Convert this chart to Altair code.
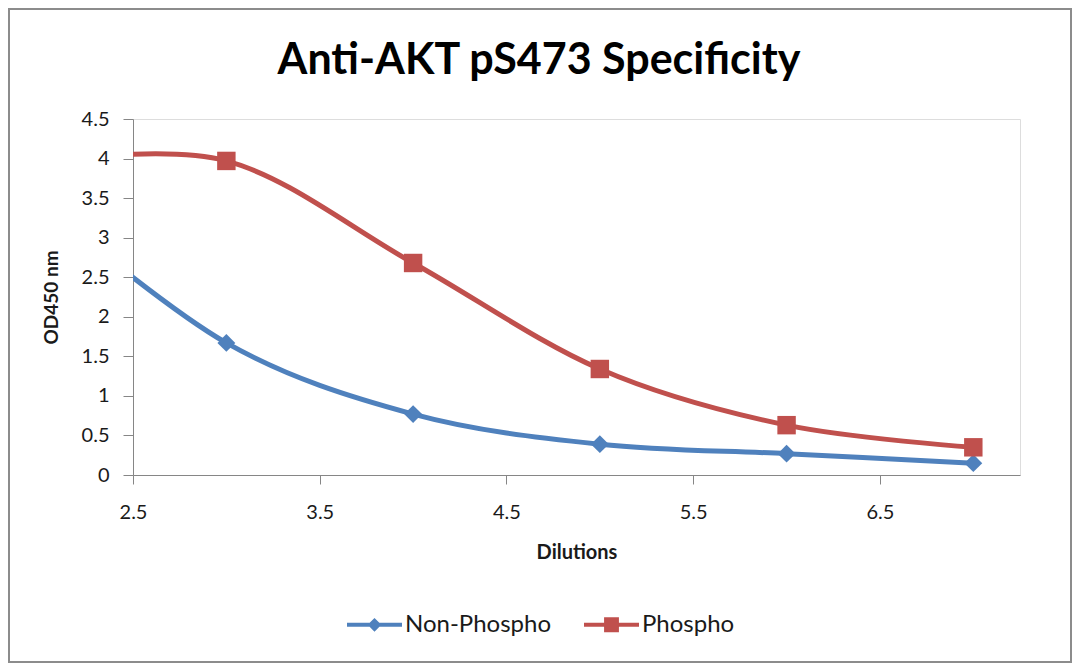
import altair as alt
import pandas as pd

# ---- data ----
dilutions = [2, 3, 4, 5, 6, 7]          # x = 2 lies left of the axis start (clipped, as in the original)
non_phospho = [3.45, 1.67, 0.77, 0.39, 0.27, 0.15]
phospho = [3.95, 3.97, 2.68, 1.34, 0.63, 0.35]
series_names = ["Non-Phospho", "Phospho"]
series_colors = ["#4F81BD", "#C0504D"]
x_ticks = [2.5, 3.5, 4.5, 5.5, 6.5]
y_ticks = [0, 0.5, 1, 1.5, 2, 2.5, 3, 3.5, 4, 4.5]
chart_title = "Anti-AKT pS473 Specificity"

rows = []
for d, a, b in zip(dilutions, non_phospho, phospho):
    rows.append({"Dilutions": d, "OD": a, "series": series_names[0]})
    rows.append({"Dilutions": d, "OD": b, "series": series_names[1]})
df = pd.DataFrame(rows)

FONT = "Lato"
TXT = "#1a1a1a"
AXC = "#868686"

x_enc = alt.X(
    "Dilutions:Q",
    scale=alt.Scale(domain=[2.5, 7.25], nice=False, zero=False),
    axis=alt.Axis(values=x_ticks, format=".1f", title="Dilutions", tickSize=9,
                  labelPadding=18, titlePadding=20, labelFontSize=20, titleFontSize=20,
                  labelFont=FONT, titleFont=FONT, titleFontWeight="bold",
                  labelColor=TXT, titleColor=TXT, domainColor=AXC, tickColor=AXC,
                  grid=False, labelFlush=False),
)
y_enc = alt.Y(
    "OD:Q",
    scale=alt.Scale(domain=[0, 4.5], nice=False),
    axis=alt.Axis(values=y_ticks, labelExpr="datum.value + ''", title="OD450 nm", tickSize=10,
                  labelPadding=14, titlePadding=20, labelFontSize=20, titleFontSize=19,
                  labelFont=FONT, titleFont=FONT, titleFontWeight="bold",
                  labelColor=TXT, titleColor=TXT, domainColor=AXC, tickColor=AXC,
                  grid=False, labelFlush=False),
)


def color_enc(legend=None):
    return alt.Color("series:N", scale=alt.Scale(domain=series_names, range=series_colors), legend=legend)


base = alt.Chart(df)

lines = base.mark_line(interpolate="cardinal", strokeWidth=5, clip=True).encode(
    x=x_enc, y=y_enc, color=color_enc()
)

points = base.mark_point(filled=True, opacity=1, clip=True).encode(
    x=x_enc, y=y_enc, color=color_enc(),
    shape=alt.Shape("series:N", scale=alt.Scale(domain=series_names, range=["diamond", "square"]), legend=None),
    size=alt.Size("series:N", scale=alt.Scale(domain=series_names, range=[320, 340]), legend=None),
)

# legend-only layer (its marks are placed outside the plot and clipped away);
# each symbol is a filled path: a short line with the series marker on it
leg = alt.Legend(orient="none", legendX=214, legendY=478, direction="horizontal", title=None,
                 symbolSize=3025, symbolStrokeWidth=0, symbolOpacity=1,
                 labelFont=FONT, labelFontSize=24, labelColor=TXT, labelOffset=3,
                 columnPadding=32)
diamond_path = ("M-1,-0.07L1,-0.07L1,0.07L-1,0.07Z"
                "M0,-0.25L0.25,0L0,0.25L-0.25,0Z")
square_path = ("M-1,-0.07L1,-0.07L1,0.07L-1,0.07Z"
               "M-0.27,-0.27L0.27,-0.27L0.27,0.27L-0.27,0.27Z")
legend_layer = base.mark_point(filled=True, opacity=1, clip=True, strokeWidth=0).encode(
    x=x_enc,
    y=alt.value(-300),
    color=color_enc(leg),
    shape=alt.Shape("series:N", scale=alt.Scale(domain=series_names, range=[diamond_path, square_path]), legend=leg),
)

deco = alt.Chart(pd.DataFrame({"label": [chart_title]}))
frame = deco.mark_rect(fill="transparent", stroke="#8c8c8c", strokeWidth=2).encode(
    x=alt.value(-124), x2=alt.value(938), y=alt.value(-110), y2=alt.value(543)
)
title_text = deco.mark_text(font=FONT, fontSize=43, fontWeight="bold", color="#000000",
                            align="center", baseline="middle").encode(
    text="label:N", x=alt.value(406), y=alt.value(-58)
)

chart = alt.layer(frame, title_text, lines, points, legend_layer).resolve_scale(
    shape="independent", size="independent", color="independent"
).properties(
    width=887,
    height=356,
    padding={"left": 125, "top": 111, "right": 52, "bottom": 189},
    autosize=alt.AutoSizeParams(type="none"),
).configure_view(stroke=None).configure(background="white")

chart.save("out.html", embed_options={"renderer": "svg", "actions": False})
